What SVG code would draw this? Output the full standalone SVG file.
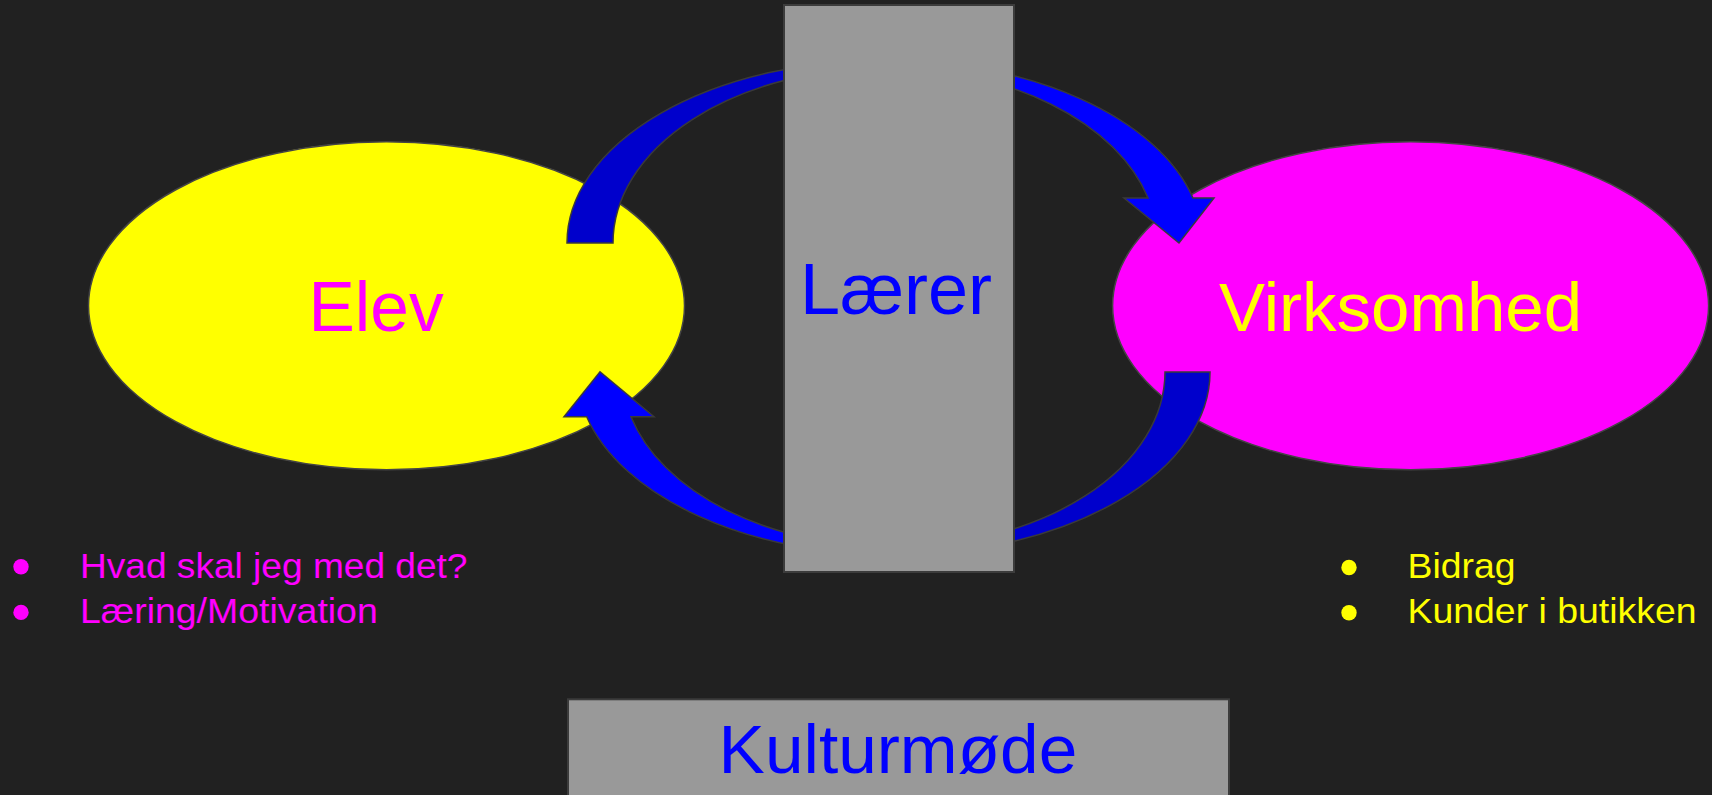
<svg xmlns="http://www.w3.org/2000/svg" width="1712" height="795" viewBox="0 0 1712 795">
  <defs>
    <style>
      .txt { font-family: "Liberation Sans", Arial, sans-serif; }
      .big { font-size: 70px; }
      .small { font-size: 35px; }
      .box { fill: #999999; stroke: #3c3c3c; stroke-width: 2; }
      .ell { stroke: #444444; stroke-width: 1.5; }
      .arrow { stroke: #3a3a3a; stroke-width: 1.5; stroke-linejoin: miter; }
      .dark { fill: #0000cc; }
      .bright { fill: #0000ff; }
    </style>
  </defs>
  <rect x="0" y="0" width="1712" height="795" fill="#212121"/>

  <g id="elev">
    <ellipse class="ell" cx="386.5" cy="305.7" rx="298" ry="164" fill="#ffff00"/>
    <text class="txt" x="308.5" y="330.7" font-size="69.5" fill="#ff00ff">Elev</text>
  </g>

  <g id="virksomhed">
    <ellipse class="ell" cx="1410.6" cy="305.7" rx="298" ry="164" fill="#ff00ff"/>
    <text class="txt" x="1219" y="331" font-size="69" fill="#ffff00">Virksomhed</text>
  </g>

  <g id="connectors">
    <path class="arrow dark" d="M 567,243 A 318 183 0 0 1 885,60 L 885,68 A 272 175 0 0 0 613,243 Z"/>
    <path class="arrow bright" d="M 885,60 A 318 183 0 0 1 1193,198 L 1214,198 L 1179,243 L 1124,198 L 1148,198 A 272 175 0 0 0 885,68 Z"/>
    <path class="arrow dark" d="M 1210,372 A 316.5 183 0 0 1 893.5,555 L 893.5,547 A 271.5 175 0 0 0 1165,372 Z"/>
    <path class="arrow bright" d="M 893.5,555 A 316.5 183 0 0 1 586.7,416.7 L 564,416.7 L 600,371.7 L 654,416.7 L 631,416.7 A 271.5 175 0 0 0 893.5,547 Z"/>
  </g>

  <g id="laerer">
    <rect class="box" x="784" y="5" width="230" height="567"/>
    <text class="txt" x="800" y="314" font-size="72" fill="#0000ff">Lærer</text>
  </g>

  <g id="kulturmode">
    <rect class="box" x="568" y="699.3" width="661" height="120"/>
    <text class="txt" x="718.6" y="773.3" font-size="69.4" fill="#0000ff">Kulturmøde</text>
  </g>

  <g id="elev-bullets" fill="#ff00ff">
    <circle cx="21" cy="566.8" r="7.7"/>
    <circle cx="21" cy="612.4" r="7.7"/>
    <text class="txt small" x="80" y="577.5" textLength="387.5" lengthAdjust="spacingAndGlyphs">Hvad skal jeg med det?</text>
    <text class="txt small" x="80" y="622.8" textLength="297.8" lengthAdjust="spacingAndGlyphs">Læring/Motivation</text>
  </g>

  <g id="virksomhed-bullets" fill="#ffff00">
    <circle cx="1349" cy="567.5" r="7.7"/>
    <circle cx="1349" cy="612.7" r="7.7"/>
    <text class="txt small" x="1407.5" y="578" textLength="108" lengthAdjust="spacingAndGlyphs">Bidrag</text>
    <text class="txt small" x="1407.5" y="623.2" textLength="289" lengthAdjust="spacingAndGlyphs">Kunder i butikken</text>
  </g>
</svg>
